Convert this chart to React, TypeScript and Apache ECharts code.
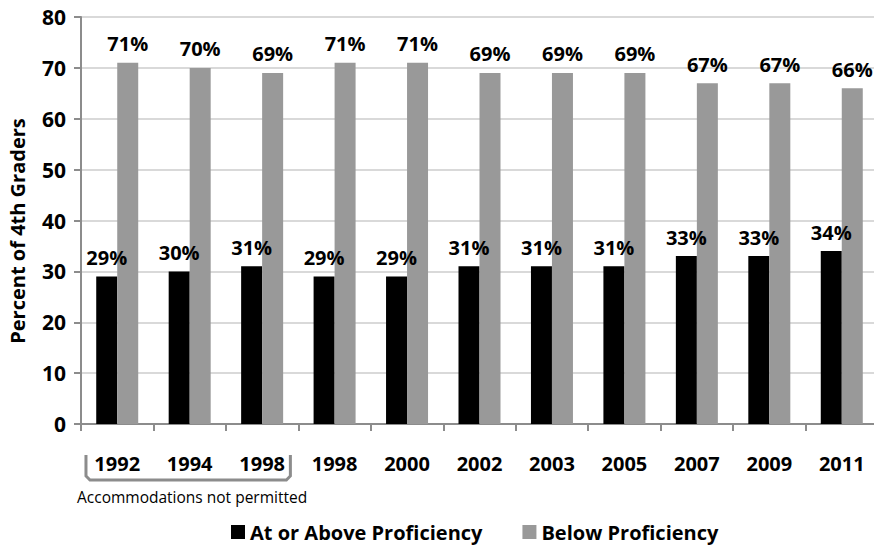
import React, { useEffect, useRef } from "react";
import * as echarts from "echarts";

const years = ["1992", "1994", "1998", "1998", "2000", "2002", "2003", "2005", "2007", "2009", "2011"];
const atOrAbove = [29, 30, 31, 29, 29, 31, 31, 31, 33, 33, 34];
const below = [71, 70, 69, 71, 71, 69, 69, 69, 67, 67, 66];
const yTicks = { min: 0, max: 80, interval: 10 };
const seriesNames = ["At or Above Proficiency", "Below Proficiency"];
const yTitle = "Percent of 4th Graders";
const bracketNote = "Accommodations not permitted";
// first and last category under the bracket
const bracketRange = [0, 2];

const FONT = "'Open Sans', sans-serif";

export default function App() {
  const ref = useRef<HTMLDivElement>(null);

  useEffect(() => {
    if (!ref.current) return;
    const chart = echarts.init(ref.current, null, { renderer: "svg" });

    const pctLabel = {
      show: true,
      position: "top",
      distance: 9,
      formatter: "{c}%",
      color: "#000",
      fontFamily: FONT,
      fontWeight: "bold",
      fontSize: 20,
    };

    chart.setOption({
      animation: false,
      backgroundColor: "#fff",
      grid: {
        left: 81,
        top: 17,
        width: 797,
        height: 407,
        containLabel: false,
        outerBoundsMode: "none",
      },
      legend: {
        left: 226,
        top: 517,
        itemWidth: 14,
        itemHeight: 14,
        itemGap: 40,
        icon: "rect",
        textStyle: { fontFamily: FONT, fontWeight: "bold", fontSize: 20, lineHeight: 20, color: "#000" },
        data: seriesNames,
      },
      xAxis: {
        type: "category",
        data: years,
        axisLine: { lineStyle: { color: "#8c8c8c", width: 2 } },
        axisTick: { show: true, length: 7, interval: 0, lineStyle: { color: "#8c8c8c", width: 2 } },
        axisLabel: {
          interval: 0,
          margin: 29,
          color: "#000",
          fontFamily: FONT,
          fontWeight: "bold",
          fontSize: 20,
        },
      },
      yAxis: {
        type: "value",
        min: yTicks.min,
        max: yTicks.max,
        interval: yTicks.interval,
        axisLine: { show: true, lineStyle: { color: "#8c8c8c", width: 2 } },
        axisTick: { show: true, length: 7, lineStyle: { color: "#8c8c8c", width: 2 } },
        axisLabel: {
          margin: 15,
          color: "#000",
          fontFamily: FONT,
          fontWeight: "bold",
          fontSize: 21,
        },
        splitLine: { lineStyle: { color: "#d9d9d9", width: 2 } },
      },
      series: [
        {
          name: seriesNames[0],
          type: "bar",
          data: atOrAbove,
          barWidth: 21,
          barGap: "0%",
          itemStyle: { color: "#000" },
          label: pctLabel,
        },
        {
          name: seriesNames[1],
          type: "bar",
          data: below,
          barWidth: 21,
          barGap: "0%",
          itemStyle: { color: "#999999" },
          label: pctLabel,
        },
      ],
    });

    // Bracket under the first three years, placed from the category axis
    const c0 = chart.convertToPixel({ xAxisIndex: 0 }, bracketRange[0]) as number;
    const c1 = chart.convertToPixel({ xAxisIndex: 0 }, bracketRange[1]) as number;
    const half = 36.25;
    const xl = c0 - half + 5;
    const xr = c1 + half - 8;
    const yt = 455;
    const yb = 480;
    chart.setOption({
      graphic: [
        {
          type: "polyline",
          shape: {
            points: [
              [xl, yt],
              [xl, yb - 4],
              [xl + 4, yb],
              [xr - 4, yb],
              [xr, yb - 4],
              [xr, yt],
            ],
          },
          style: { stroke: "#8c8c8c", lineWidth: 3, fill: null },
        },
        {
          type: "text",
          x: 77,
          y: 497,
          style: {
            text: bracketNote,
            fontFamily: FONT,
            fontSize: 15.5,
            fill: "#000",
            textVerticalAlign: "middle",
          },
        },
        {
          type: "text",
          x: 17,
          y: 231,
          rotation: Math.PI / 2,
          style: {
            text: yTitle,
            fontFamily: FONT,
            fontWeight: "bold",
            fontSize: 20,
            fill: "#000",
            align: "center",
            verticalAlign: "middle",
          },
        },
      ],
    });

    return () => chart.dispose();
  }, []);

  return (
    <div
      ref={ref}
      style={{ position: "fixed", left: 0, top: 0, width: 874, height: 545, background: "#fff" }}
    />
  );
}
